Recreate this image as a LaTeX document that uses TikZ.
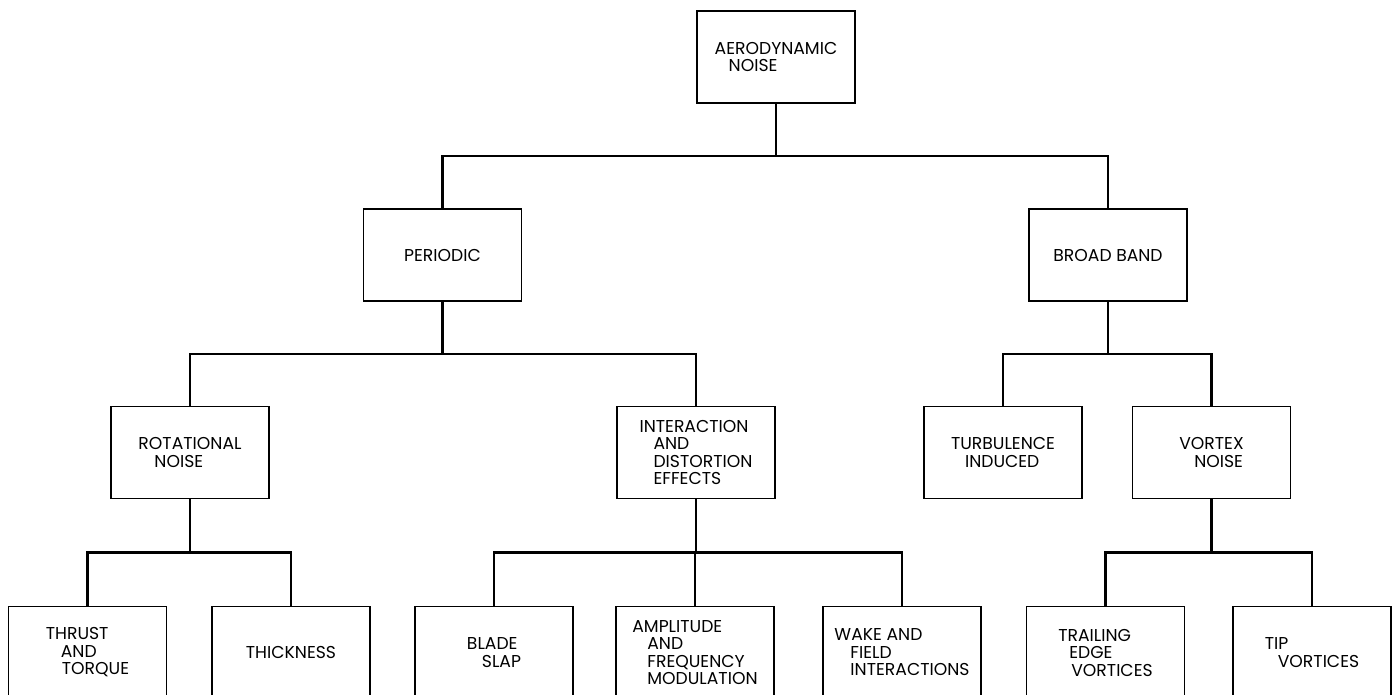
\documentclass[tikz,border=0pt]{standalone}
\usepackage{fontspec}
\setmainfont{Poppins}
\usepackage{tikz}
\usetikzlibrary{calc}
\tikzset{every picture/.style={line width=0.75pt}}
\tikzset{
  box/.style={draw, line width=1.6pt, minimum width=158pt, minimum height=92pt,
    inner sep=0pt, align=left, font=\fontsize{17.2}{17.5}\selectfont},
  wire/.style={line width=2.4pt},
  bus/.style={to path={(\tikztostart) |- ($(\tikztostart)!.5!(\tikztotarget)$) -| (\tikztotarget)}}
}

\begin{document}
\begin{tikzpicture}[x=1pt,y=-1pt]
\clip (0,0) rectangle (1397,694);
\node[box] at (776,57) (aero) {AERODYNAMIC\\\hspace*{14pt}NOISE};
\node[box] at (442.5,255) (per) {PERIODIC};
\node[box] at (1108,255) (bb) {BROAD BAND};
\node[box] at (190,452.5) (rot) {ROTATIONAL\\\hspace*{16pt}NOISE};
\node[box] at (696,452.5) (inter) {INTERACTION\\\hspace*{14pt}AND\\\hspace*{14pt}DISTORTION\\\hspace*{14pt}EFFECTS};
\node[box] at (1003,452.5) (turb) {TURBULENCE\\\hspace*{14pt}INDUCED};
\node[box] at (1211.5,452.5) (vort) {VORTEX\\\hspace*{15pt}NOISE};
\node[box] at (87.5,652.5) (thr) {THRUST\\\hspace*{15pt}AND\\\hspace*{16pt}TORQUE};
\node[box] at (291,652.5) (thick) {THICKNESS};
\node[box] at (494,652.5) (slap) {BLADE\\\hspace*{15pt}SLAP};
\node[box] at (695,652.5) (amp) {AMPLITUDE\\\hspace*{15pt}AND\\\hspace*{15pt}FREQUENCY\\\hspace*{15pt}MODULATION};
\node[box] at (902,652.5) (wake) {WAKE AND\\\hspace*{16pt}FIELD\\\hspace*{16pt}INTERACTIONS};
\node[box] at (1105.5,652.5) (trail) {TRAILING\\\hspace*{11pt}EDGE\\\hspace*{13pt}VORTICES};
\node[box] at (1312,652.5) (tip) {TIP\\\hspace*{13pt}VORTICES};
\draw[wire] (aero.south) to[bus] (per.north)
            (aero.south) to[bus] (bb.north)
            (per.south) to[bus] (rot.north)
            (per.south) to[bus] (inter.north)
            (bb.south) to[bus] (turb.north)
            (bb.south) to[bus] (vort.north)
            (rot.south) to[bus] (thr.north)
            (rot.south) to[bus] (thick.north)
            (inter.south) to[bus] (slap.north)
            (inter.south) to[bus] (amp.north)
            (inter.south) to[bus] (wake.north)
            (vort.south) to[bus] (trail.north)
            (vort.south) to[bus] (tip.north);
\end{tikzpicture}
\end{document}
